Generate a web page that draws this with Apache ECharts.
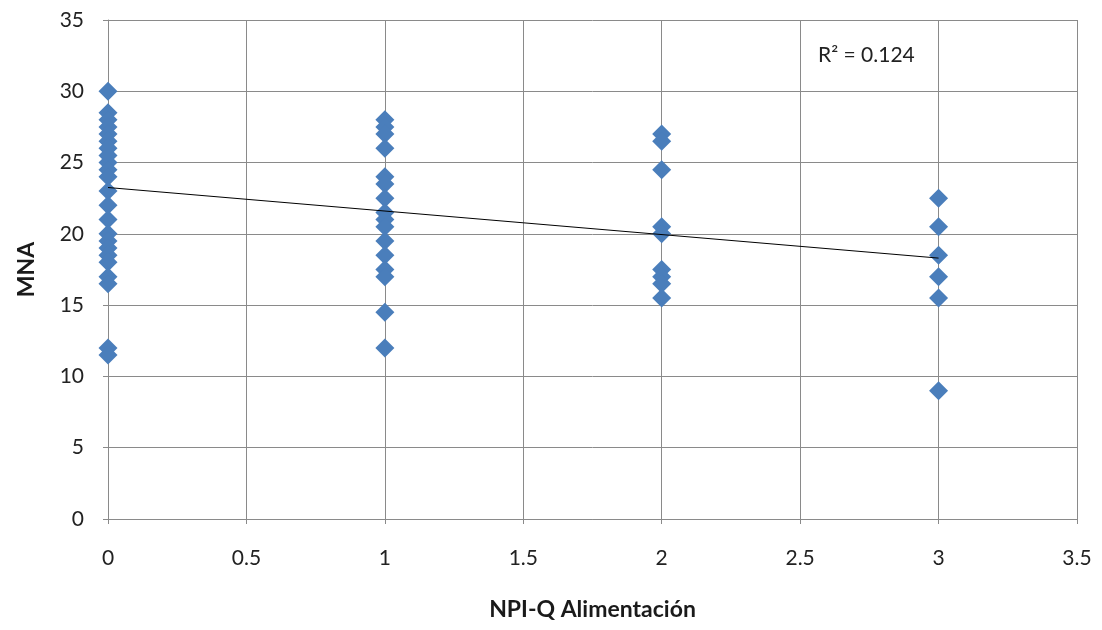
<!DOCTYPE html>
<html>
<head>
<meta charset="utf-8">
<script src="https://cdn.jsdelivr.net/npm/echarts@6/dist/echarts.min.js"></script>
<style>
  html, body { margin: 0; padding: 0; background: #ffffff; }
  #chart { width: 1102px; height: 630px; }
</style>
</head>
<body>
<div id="chart"></div>
<script>
// NPI-Q feeding score levels and the MNA scores observed at each level
const npiLevels = [0, 1, 2, 3];
const mnaAt0 = [30, 28.5, 28, 27.5, 27, 26.5, 26, 25.5, 25, 24.5, 24, 23, 22, 21, 20, 19.5, 19, 18.5, 18, 17, 16.5, 12, 11.5];
const mnaAt1 = [28, 27.5, 27, 26, 24, 23.5, 22.5, 21.5, 21, 20.5, 19.5, 18.5, 17.5, 17, 14.5, 12];
const mnaAt2 = [27, 26.5, 24.5, 20.5, 20, 17.5, 17, 16.5, 15.5];
const mnaAt3 = [22.5, 20.5, 18.5, 17, 15.5, 9];

// Linear trend line endpoints (x, fitted MNA)
const trendX = [0, 3];
const trendY = [23.25, 18.3];
const rSquared = '0.124';

// Axis ticks
const xTicks = [0, 0.5, 1, 1.5, 2, 2.5, 3, 3.5];
const yTicks = [0, 5, 10, 15, 20, 25, 30, 35];

const groups = [mnaAt0, mnaAt1, mnaAt2, mnaAt3];
const points = [];
groups.forEach((vals, i) => vals.forEach(v => points.push([npiLevels[i], v])));
const trendPoints = trendX.map((x, i) => [x, trendY[i]]);

const FONT = 'Lato, "Open Sans", sans-serif';
const gridColor = '#8a8a8a';

const chart = echarts.init(document.getElementById('chart'), null, { renderer: 'canvas' });
chart.setOption({
  animation: false,
  backgroundColor: '#ffffff',
  grid: { left: 108, right: 25, top: 20, bottom: 111 },
  xAxis: {
    type: 'value',
    min: xTicks[0],
    max: xTicks[xTicks.length - 1],
    interval: xTicks[1] - xTicks[0],
    name: 'NPI-Q Alimentación',
    nameLocation: 'middle',
    nameGap: 79,
    nameTextStyle: { fontFamily: FONT, fontSize: 23, fontWeight: 'bold', color: '#1a1a1a' },
    axisLine: { show: true, lineStyle: { color: gridColor, width: 1 } },
    axisTick: { show: true, inside: false, length: 5, lineStyle: { color: gridColor } },
    axisLabel: { fontFamily: FONT, fontSize: 21, color: '#222222', margin: 29 },
    splitLine: { show: true, lineStyle: { color: gridColor, width: 1 } }
  },
  yAxis: {
    type: 'value',
    min: yTicks[0],
    max: yTicks[yTicks.length - 1],
    interval: yTicks[1] - yTicks[0],
    name: 'MNA',
    nameLocation: 'middle',
    nameGap: 70,
    nameRotate: 90,
    nameTextStyle: { fontFamily: FONT, fontSize: 23, fontWeight: 'bold', color: '#1a1a1a' },
    axisLine: { show: true, lineStyle: { color: gridColor, width: 1 } },
    axisTick: { show: true, inside: false, length: 5, lineStyle: { color: gridColor } },
    axisLabel: { fontFamily: FONT, fontSize: 21, color: '#222222', margin: 24 },
    splitLine: { show: true, lineStyle: { color: gridColor, width: 1 } }
  },
  graphic: [{
    type: 'text',
    left: 818,
    top: 45,
    style: { text: 'R² = ' + rSquared, font: '21px ' + FONT, fill: '#222222' }
  }],
  series: [
    {
      type: 'scatter',
      data: points,
      symbol: 'diamond',
      symbolSize: 19,
      itemStyle: { color: '#4a7ebb', opacity: 1 },
      z: 3
    },
    {
      type: 'line',
      data: trendPoints,
      symbol: 'none',
      lineStyle: { color: '#000000', width: 1 },
      z: 4
    }
  ]
});
</script>
</body>
</html>
